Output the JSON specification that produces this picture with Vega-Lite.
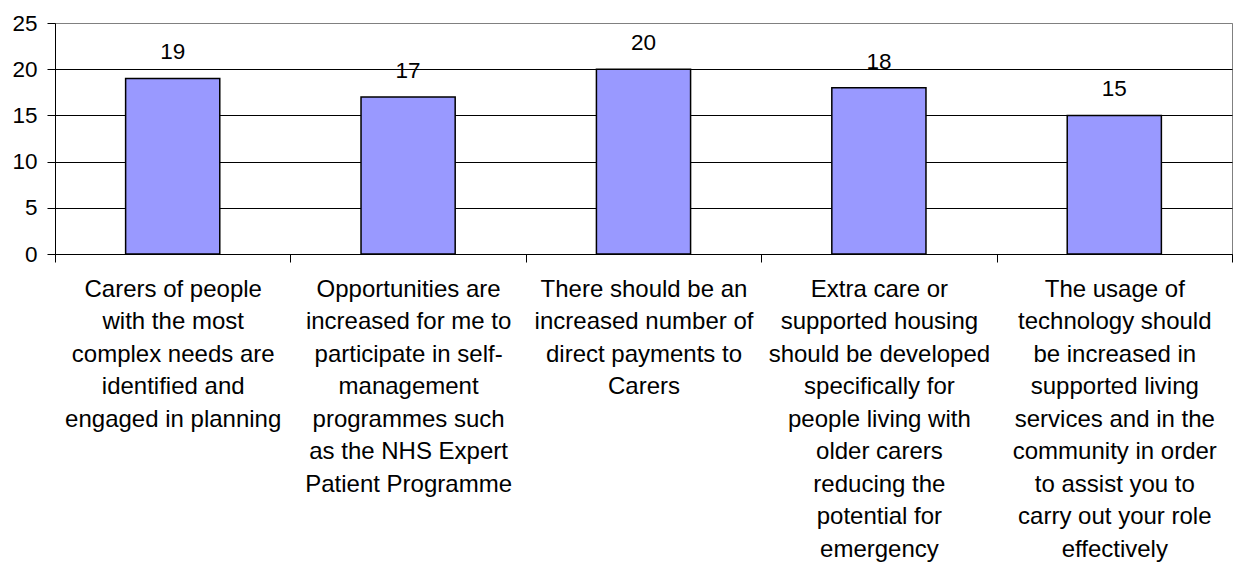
{
  "$schema": "https://vega.github.io/schema/vega-lite/v6.json",
  "width": 1177,
  "height": 231,
  "autosize": {"type": "none"},
  "padding": {"left": 55, "top": 23, "right": 5, "bottom": 308},
  "background": "white",
  "config": {
    "view": {"stroke": "#808080", "strokeWidth": 1},
    "font": "Liberation Sans"
  },
  "data": {
    "values": [
      {"statement": "Carers of people\nwith the most\ncomplex needs are\nidentified and\nengaged in planning", "count": 19},
      {"statement": "Opportunities are\nincreased for me to\nparticipate in self-\nmanagement\nprogrammes such\nas the NHS Expert\nPatient Programme", "count": 17},
      {"statement": "There should be an\nincreased number of\ndirect payments to\nCarers", "count": 20},
      {"statement": "Extra care or\nsupported housing\nshould be developed\nspecifically for\npeople living with\nolder carers\nreducing the\npotential for\nemergency", "count": 18},
      {"statement": "The usage of\ntechnology should\nbe increased in\nsupported living\nservices and in the\ncommunity in order\nto assist you to\ncarry out your role\neffectively", "count": 15}
    ]
  },
  "encoding": {
    "x": {
      "field": "statement",
      "type": "nominal",
      "sort": null,
      "scale": {"paddingInner": 0, "paddingOuter": 0},
      "axis": {
        "title": null,
        "labelAngle": 0,
        "labelExpr": "isValid(datum.value) ? split(datum.value, '\\n') : ''",
        "labelFont": "Liberation Sans",
        "labelFontSize": 24,
        "labelColor": "black",
        "labelLineHeight": 32.5,
        "labelPadding": 15,
        "labelLimit": 0,
        "tickBand": "extent",
        "tickSize": 8,
        "tickColor": "black",
        "domainColor": "black",
        "domainWidth": 1,
        "grid": false
      }
    },
    "y": {
      "field": "count",
      "type": "quantitative",
      "scale": {"domain": [0, 25], "nice": false},
      "axis": {
        "title": null,
        "values": [0, 5, 10, 15, 20, 25],
        "labelFont": "Liberation Sans",
        "labelFontSize": 22.5,
        "labelColor": "black",
        "labelPadding": 10,
        "tickSize": 8,
        "tickColor": "black",
        "domainColor": "black",
        "grid": true,
        "gridColor": {"condition": {"test": "datum.value == 25", "value": "#808080"}, "value": "black"},
        "gridOpacity": 1
      }
    }
  },
  "layer": [
    {
      "mark": {"type": "bar", "width": {"band": 0.4}, "fill": "#9999FF", "stroke": "black", "strokeWidth": 1.5}
    },
    {
      "mark": {"type": "text", "fontSize": 22.5, "font": "Liberation Sans", "color": "black", "baseline": "alphabetic", "dy": -19},
      "encoding": {"text": {"field": "count", "type": "quantitative"}}
    }
  ]
}
